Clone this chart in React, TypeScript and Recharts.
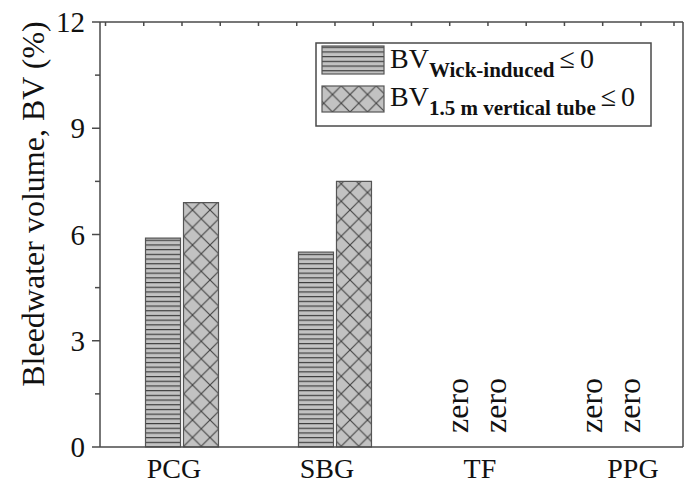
import React from "react";
import {
  Bar,
  BarChart,
  Label,
  Rectangle,
  XAxis,
  YAxis,
} from "recharts";

const categories = ["PCG", "SBG", "TF", "PPG"];
const wickInduced = [5.9, 5.5, 0, 0];
const verticalTube = [6.9, 7.5, 0, 0];
const yMajorTicks = [0, 3, 6, 9, 12];
const yMinorTicks = [1.5, 4.5, 7.5, 10.5];

const FONT = '"Liberation Serif", "Times New Roman", serif';
const AXIS = "#4a4a4a";
const BAR_FILL = "#c2c2c2";
const BAR_STROKE = "#555";

const data = categories.map((name, i) => ({
  x: i + 1,
  name,
  wick: wickInduced[i],
  tube: verticalTube[i],
}));

const xDomain = [0.464, 4.275];
const topTicks: number[] = [];
for (let t = 0.5; t <= 4.26; t += 0.125) topTicks.push(Math.round(t * 1000) / 1000);

const yTicks = [...yMajorTicks, ...yMinorTicks].sort((a, b) => a - b);

// nudge for the "zero" notes, they are not centred on the bars in the original
const zeroNudge: Record<string, number> = { TF: -12, PPG: -31 };

function LeftTick({ x, y, payload }: any) {
  const major = yMajorTicks.includes(payload.value);
  return (
    <g>
      <line x1={x} x2={x - (major ? 8 : 5)} y1={y} y2={y} stroke={AXIS} strokeWidth={1.5} />
      {major && (
        <text x={x - 15} y={y} textAnchor="end" dominantBaseline="central" fontFamily={FONT} fontSize={29} fill="#111">
          {payload.value}
        </text>
      )}
    </g>
  );
}

function RightTick({ x, y, payload }: any) {
  const major = yMajorTicks.includes(payload.value);
  return <line x1={x} x2={x - (major ? 8 : 5)} y1={y} y2={y} stroke={AXIS} strokeWidth={1.5} />;
}

function TopTick({ x, y, payload }: any) {
  const long = Math.abs(((payload.value - 0.625) / 0.25) % 1) < 0.01;
  return <line x1={x} x2={x} y1={y} y2={y + (long ? 6 : 4)} stroke={AXIS} strokeWidth={1.5} />;
}

function BottomTick({ x, y, payload }: any) {
  const name = categories[payload.value - 1];
  return (
    <text x={x - 8} y={y + 31} textAnchor="middle" fontFamily={FONT} fontSize={28} fill="#111">
      {name}
    </text>
  );
}

function YTitle({ viewBox }: any) {
  const cx = viewBox.x + 33;
  const cy = 204;
  return (
    <text
      x={cx}
      y={cy}
      transform={`rotate(-90, ${cx}, ${cy})`}
      textAnchor="middle"
      dominantBaseline="central"
      fontFamily={FONT}
      fontSize={32}
      fill="#111"
    >
      Bleedwater volume, BV (%)
    </text>
  );
}

function makeShape(key: "wick" | "tube") {
  return (props: any) => {
    const { x, y, width, payload } = props;
    const value = payload?.[key];
    if (value !== 0) return <Rectangle {...props} />;
    const cx = x + width / 2 + (zeroNudge[payload.name] ?? 0);
    const by = y - 14;
    return (
      <text
        x={cx}
        y={by}
        transform={`rotate(-90, ${cx}, ${by})`}
        textAnchor="start"
        dominantBaseline="central"
        fontFamily={FONT}
        fontSize={32}
        fill="#111"
      >
        zero
      </text>
    );
  };
}

function LegendBox() {
  return (
    <svg width={338} height={86} style={{ display: "block" }}>
      <rect x={1} y={1} width={335} height={83} fill="#fff" stroke={AXIS} strokeWidth={1.5} />
      <rect x={7} y={4} width={62} height={28} fill="url(#hatchH)" stroke={BAR_STROKE} strokeWidth={1.2} />
      <rect x={7} y={44} width={62} height={26} fill="url(#hatchX)" stroke={BAR_STROKE} strokeWidth={1.2} />
      <text x={75} y={26} fontFamily={FONT} fontSize={28} fill="#111">
        BV
        <tspan dy={9} fontSize={21} fontWeight="bold">Wick-induced</tspan>
        <tspan dy={-9} dx={5}>≤</tspan>
        <tspan dx={5}>0</tspan>
      </text>
      <text x={75} y={64} fontFamily={FONT} fontSize={28} fill="#111">
        BV
        <tspan dy={9} fontSize={21} fontWeight="bold">1.5 m vertical tube</tspan>
        <tspan dy={-9} dx={5}>≤</tspan>
        <tspan dx={5}>0</tspan>
      </text>
    </svg>
  );
}

export default function App() {
  return (
    <div style={{ position: "absolute", left: 0, top: 0, width: 688, height: 486, background: "#fff" }}>
      <BarChart
        width={688}
        height={486}
        data={data}
        margin={{ top: 0, right: 0, bottom: 0, left: 0 }}
        barSize={35}
        barGap={3}
      >
        <defs>
          <pattern id="hatchH" patternUnits="userSpaceOnUse" width={10} height={4.7}>
            <rect width={10} height={4.7} fill={BAR_FILL} />
            <line x1={0} x2={10} y1={0.6} y2={0.6} stroke="#333" strokeWidth={1.1} />
          </pattern>
          <pattern id="hatchX" patternUnits="userSpaceOnUse" width={17.5} height={17.5}>
            <rect width={17.5} height={17.5} fill={BAR_FILL} />
            <line x1={0} y1={0} x2={17.5} y2={17.5} stroke="#444" strokeWidth={1.1} />
            <line x1={17.5} y1={0} x2={0} y2={17.5} stroke="#444" strokeWidth={1.1} />
          </pattern>
        </defs>
        <XAxis
          xAxisId="bottom"
          dataKey="x"
          type="number"
          domain={xDomain}
          ticks={[1, 2, 3, 4]}
          allowDataOverflow
          height={39}
          tickSize={0}
          tickMargin={0}
          tick={<BottomTick />}
          axisLine={{ stroke: AXIS, strokeWidth: 1.5 }}
          tickLine={false}
        />
        <XAxis
          xAxisId="top"
          orientation="top"
          dataKey="x"
          type="number"
          domain={xDomain}
          ticks={topTicks}
          allowDataOverflow
          height={22}
          tickSize={0}
          tickMargin={0}
          tick={<TopTick />}
          axisLine={{ stroke: AXIS, strokeWidth: 1.5 }}
          tickLine={false}
        />
        <YAxis
          yAxisId="left"
          domain={[0, 12]}
          ticks={yTicks}
          width={100}
          tickSize={0}
          tickMargin={0}
          tick={<LeftTick />}
          axisLine={{ stroke: AXIS, strokeWidth: 1.5 }}
          tickLine={false}
          interval={0}
        >
          <Label content={<YTitle />} />
        </YAxis>
        <YAxis
          yAxisId="right"
          orientation="right"
          domain={[0, 12]}
          ticks={yTicks}
          width={5}
          tickSize={0}
          tickMargin={0}
          tick={<RightTick />}
          axisLine={{ stroke: AXIS, strokeWidth: 1.5 }}
          tickLine={false}
          interval={0}
        />
        <Bar
          dataKey="wick"
          xAxisId="bottom"
          yAxisId="left"
          fill="url(#hatchH)"
          stroke={BAR_STROKE}
          strokeWidth={1.2}
          shape={makeShape("wick")}
          isAnimationActive={false}
        />
        <Bar
          dataKey="tube"
          xAxisId="bottom"
          yAxisId="left"
          fill="url(#hatchX)"
          stroke={BAR_STROKE}
          strokeWidth={1.2}
          shape={makeShape("tube")}
          isAnimationActive={false}
        />
      </BarChart>
      <div style={{ position: "absolute", left: 315, top: 42 }}>
        <LegendBox />
      </div>
    </div>
  );
}
